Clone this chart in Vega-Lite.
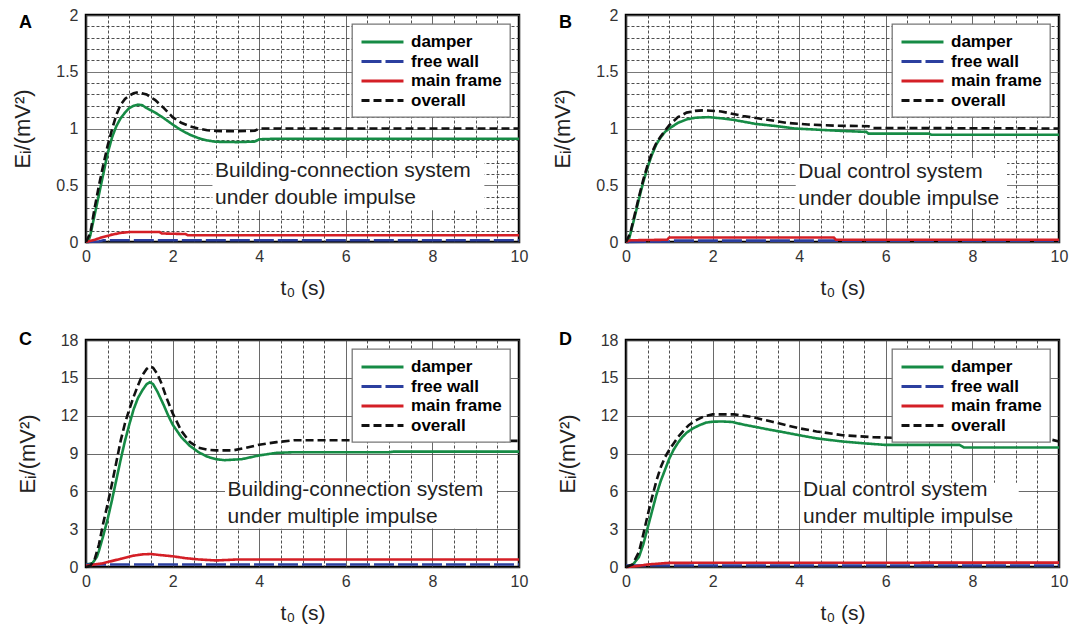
{
  "$schema": "https://vega.github.io/schema/vega-lite/v6.json",
  "padding": {"left": 10, "top": 5, "right": 5, "bottom": 5},
  "background": "white",
  "datasets": {
    "curves": [
      {"panel":"A","series":"damper","t":0,"v":0},{"panel":"A","series":"damper","t":0.05,"v":0},{"panel":"A","series":"damper","t":0.1,"v":0.06},{"panel":"A","series":"damper","t":0.2,"v":0.24},{"panel":"A","series":"damper","t":0.3,"v":0.42},{"panel":"A","series":"damper","t":0.4,"v":0.6},{"panel":"A","series":"damper","t":0.5,"v":0.78},{"panel":"A","series":"damper","t":0.6,"v":0.92},{"panel":"A","series":"damper","t":0.7,"v":1.02},{"panel":"A","series":"damper","t":0.8,"v":1.09},{"panel":"A","series":"damper","t":0.9,"v":1.14},{"panel":"A","series":"damper","t":1.0,"v":1.18},{"panel":"A","series":"damper","t":1.1,"v":1.2},{"panel":"A","series":"damper","t":1.2,"v":1.21},{"panel":"A","series":"damper","t":1.3,"v":1.205},{"panel":"A","series":"damper","t":1.4,"v":1.18},{"panel":"A","series":"damper","t":1.6,"v":1.14},{"panel":"A","series":"damper","t":1.8,"v":1.09},{"panel":"A","series":"damper","t":2.0,"v":1.035},{"panel":"A","series":"damper","t":2.2,"v":0.985},{"panel":"A","series":"damper","t":2.4,"v":0.945},{"panel":"A","series":"damper","t":2.6,"v":0.915},{"panel":"A","series":"damper","t":2.8,"v":0.895},{"panel":"A","series":"damper","t":3.0,"v":0.883},{"panel":"A","series":"damper","t":3.5,"v":0.88},{"panel":"A","series":"damper","t":3.9,"v":0.885},{"panel":"A","series":"damper","t":4.0,"v":0.905},{"panel":"A","series":"damper","t":4.4,"v":0.91},{"panel":"A","series":"damper","t":10,"v":0.91},
      {"panel":"A","series":"free wall","t":0,"v":0},{"panel":"A","series":"free wall","t":0.3,"v":0.005},{"panel":"A","series":"free wall","t":0.4,"v":0.015},{"panel":"A","series":"free wall","t":10,"v":0.015},
      {"panel":"A","series":"main frame","t":0,"v":0},{"panel":"A","series":"main frame","t":0.2,"v":0.02},{"panel":"A","series":"main frame","t":0.4,"v":0.045},{"panel":"A","series":"main frame","t":0.6,"v":0.065},{"panel":"A","series":"main frame","t":0.8,"v":0.08},{"panel":"A","series":"main frame","t":1.0,"v":0.088},{"panel":"A","series":"main frame","t":1.7,"v":0.088},{"panel":"A","series":"main frame","t":1.75,"v":0.075},{"panel":"A","series":"main frame","t":2.3,"v":0.07},{"panel":"A","series":"main frame","t":2.35,"v":0.06},{"panel":"A","series":"main frame","t":10,"v":0.06},
      {"panel":"A","series":"overall","t":0,"v":0},{"panel":"A","series":"overall","t":0.1,"v":0.08},{"panel":"A","series":"overall","t":0.2,"v":0.3},{"panel":"A","series":"overall","t":0.3,"v":0.5},{"panel":"A","series":"overall","t":0.4,"v":0.68},{"panel":"A","series":"overall","t":0.5,"v":0.85},{"panel":"A","series":"overall","t":0.6,"v":0.99},{"panel":"A","series":"overall","t":0.7,"v":1.12},{"panel":"A","series":"overall","t":0.8,"v":1.21},{"panel":"A","series":"overall","t":0.9,"v":1.26},{"panel":"A","series":"overall","t":1.0,"v":1.29},{"panel":"A","series":"overall","t":1.1,"v":1.31},{"panel":"A","series":"overall","t":1.2,"v":1.32},{"panel":"A","series":"overall","t":1.4,"v":1.3},{"panel":"A","series":"overall","t":1.6,"v":1.25},{"panel":"A","series":"overall","t":1.8,"v":1.18},{"panel":"A","series":"overall","t":2.0,"v":1.1},{"panel":"A","series":"overall","t":2.2,"v":1.05},{"panel":"A","series":"overall","t":2.4,"v":1.02},{"panel":"A","series":"overall","t":2.6,"v":1.0},{"panel":"A","series":"overall","t":2.8,"v":0.985},{"panel":"A","series":"overall","t":3.0,"v":0.978},{"panel":"A","series":"overall","t":3.5,"v":0.975},{"panel":"A","series":"overall","t":3.9,"v":0.98},{"panel":"A","series":"overall","t":4.0,"v":1.0},{"panel":"A","series":"overall","t":10,"v":1.0},

      {"panel":"B","series":"damper","t":0,"v":0},{"panel":"B","series":"damper","t":0.05,"v":0},{"panel":"B","series":"damper","t":0.1,"v":0.07},{"panel":"B","series":"damper","t":0.2,"v":0.22},{"panel":"B","series":"damper","t":0.3,"v":0.38},{"panel":"B","series":"damper","t":0.4,"v":0.53},{"panel":"B","series":"damper","t":0.5,"v":0.66},{"panel":"B","series":"damper","t":0.6,"v":0.77},{"panel":"B","series":"damper","t":0.7,"v":0.86},{"panel":"B","series":"damper","t":0.8,"v":0.92},{"panel":"B","series":"damper","t":0.9,"v":0.97},{"panel":"B","series":"damper","t":1.0,"v":1.0},{"panel":"B","series":"damper","t":1.2,"v":1.05},{"panel":"B","series":"damper","t":1.4,"v":1.08},{"panel":"B","series":"damper","t":1.6,"v":1.095},{"panel":"B","series":"damper","t":1.9,"v":1.1},{"panel":"B","series":"damper","t":2.2,"v":1.09},{"panel":"B","series":"damper","t":2.5,"v":1.075},{"panel":"B","series":"damper","t":3.0,"v":1.04},{"panel":"B","series":"damper","t":3.5,"v":1.02},{"panel":"B","series":"damper","t":3.9,"v":1.0},{"panel":"B","series":"damper","t":4.4,"v":0.99},{"panel":"B","series":"damper","t":4.9,"v":0.98},{"panel":"B","series":"damper","t":5.55,"v":0.97},{"panel":"B","series":"damper","t":5.6,"v":0.955},{"panel":"B","series":"damper","t":7.0,"v":0.955},{"panel":"B","series":"damper","t":7.05,"v":0.945},{"panel":"B","series":"damper","t":10,"v":0.945},
      {"panel":"B","series":"free wall","t":0,"v":0},{"panel":"B","series":"free wall","t":1.0,"v":0.005},{"panel":"B","series":"free wall","t":1.1,"v":0.012},{"panel":"B","series":"free wall","t":10,"v":0.012},
      {"panel":"B","series":"main frame","t":0,"v":0},{"panel":"B","series":"main frame","t":0.1,"v":0.015},{"panel":"B","series":"main frame","t":0.95,"v":0.02},{"panel":"B","series":"main frame","t":1.0,"v":0.04},{"panel":"B","series":"main frame","t":4.8,"v":0.04},{"panel":"B","series":"main frame","t":4.85,"v":0.02},{"panel":"B","series":"main frame","t":10,"v":0.02},
      {"panel":"B","series":"overall","t":0,"v":0},{"panel":"B","series":"overall","t":0.1,"v":0.08},{"panel":"B","series":"overall","t":0.2,"v":0.24},{"panel":"B","series":"overall","t":0.3,"v":0.4},{"panel":"B","series":"overall","t":0.4,"v":0.55},{"panel":"B","series":"overall","t":0.5,"v":0.68},{"panel":"B","series":"overall","t":0.6,"v":0.79},{"panel":"B","series":"overall","t":0.7,"v":0.87},{"panel":"B","series":"overall","t":0.8,"v":0.93},{"panel":"B","series":"overall","t":0.9,"v":0.98},{"panel":"B","series":"overall","t":1.0,"v":1.03},{"panel":"B","series":"overall","t":1.2,"v":1.1},{"panel":"B","series":"overall","t":1.4,"v":1.14},{"panel":"B","series":"overall","t":1.6,"v":1.155},{"panel":"B","series":"overall","t":1.8,"v":1.16},{"panel":"B","series":"overall","t":2.2,"v":1.15},{"panel":"B","series":"overall","t":2.7,"v":1.11},{"panel":"B","series":"overall","t":3.3,"v":1.075},{"panel":"B","series":"overall","t":3.7,"v":1.05},{"panel":"B","series":"overall","t":4.2,"v":1.035},{"panel":"B","series":"overall","t":4.8,"v":1.025},{"panel":"B","series":"overall","t":5.6,"v":1.02},{"panel":"B","series":"overall","t":5.7,"v":1.005},{"panel":"B","series":"overall","t":10,"v":1.0},

      {"panel":"C","series":"damper","t":0,"v":0.2},{"panel":"C","series":"damper","t":0.15,"v":0.3},{"panel":"C","series":"damper","t":0.25,"v":0.8},{"panel":"C","series":"damper","t":0.3,"v":1.3},{"panel":"C","series":"damper","t":0.4,"v":2.5},{"panel":"C","series":"damper","t":0.5,"v":3.8},{"panel":"C","series":"damper","t":0.6,"v":5.3},{"panel":"C","series":"damper","t":0.7,"v":6.9},{"panel":"C","series":"damper","t":0.8,"v":8.5},{"panel":"C","series":"damper","t":0.9,"v":10.0},{"panel":"C","series":"damper","t":1.0,"v":11.3},{"panel":"C","series":"damper","t":1.1,"v":12.5},{"panel":"C","series":"damper","t":1.2,"v":13.4},{"panel":"C","series":"damper","t":1.3,"v":14.0},{"panel":"C","series":"damper","t":1.4,"v":14.5},{"panel":"C","series":"damper","t":1.47,"v":14.65},{"panel":"C","series":"damper","t":1.55,"v":14.5},{"panel":"C","series":"damper","t":1.65,"v":13.9},{"panel":"C","series":"damper","t":1.8,"v":12.8},{"panel":"C","series":"damper","t":1.9,"v":12.0},{"panel":"C","series":"damper","t":2.0,"v":11.3},{"panel":"C","series":"damper","t":2.2,"v":10.3},{"panel":"C","series":"damper","t":2.4,"v":9.6},{"panel":"C","series":"damper","t":2.6,"v":9.1},{"panel":"C","series":"damper","t":2.8,"v":8.75},{"panel":"C","series":"damper","t":3.0,"v":8.55},{"panel":"C","series":"damper","t":3.2,"v":8.47},{"panel":"C","series":"damper","t":3.6,"v":8.55},{"panel":"C","series":"damper","t":4.0,"v":8.85},{"panel":"C","series":"damper","t":4.4,"v":9.05},{"panel":"C","series":"damper","t":4.8,"v":9.1},{"panel":"C","series":"damper","t":7.0,"v":9.1},{"panel":"C","series":"damper","t":7.1,"v":9.15},{"panel":"C","series":"damper","t":10,"v":9.15},
      {"panel":"C","series":"free wall","t":0,"v":0.2},{"panel":"C","series":"free wall","t":10,"v":0.2},
      {"panel":"C","series":"main frame","t":0,"v":0.1},{"panel":"C","series":"main frame","t":0.4,"v":0.3},{"panel":"C","series":"main frame","t":0.8,"v":0.65},{"panel":"C","series":"main frame","t":1.1,"v":0.9},{"panel":"C","series":"main frame","t":1.3,"v":1.0},{"panel":"C","series":"main frame","t":1.5,"v":1.03},{"panel":"C","series":"main frame","t":1.7,"v":0.95},{"panel":"C","series":"main frame","t":2.0,"v":0.85},{"panel":"C","series":"main frame","t":2.3,"v":0.7},{"panel":"C","series":"main frame","t":2.6,"v":0.6},{"panel":"C","series":"main frame","t":3.0,"v":0.52},{"panel":"C","series":"main frame","t":3.2,"v":0.55},{"panel":"C","series":"main frame","t":3.5,"v":0.6},{"panel":"C","series":"main frame","t":10,"v":0.6},
      {"panel":"C","series":"overall","t":0,"v":0},{"panel":"C","series":"overall","t":0.1,"v":0.1},{"panel":"C","series":"overall","t":0.2,"v":0.6},{"panel":"C","series":"overall","t":0.3,"v":1.8},{"panel":"C","series":"overall","t":0.4,"v":3.5},{"panel":"C","series":"overall","t":0.5,"v":5.0},{"panel":"C","series":"overall","t":0.6,"v":6.6},{"panel":"C","series":"overall","t":0.7,"v":8.3},{"panel":"C","series":"overall","t":0.8,"v":10.0},{"panel":"C","series":"overall","t":0.9,"v":11.4},{"panel":"C","series":"overall","t":1.0,"v":12.5},{"panel":"C","series":"overall","t":1.1,"v":13.5},{"panel":"C","series":"overall","t":1.2,"v":14.4},{"panel":"C","series":"overall","t":1.3,"v":15.2},{"panel":"C","series":"overall","t":1.4,"v":15.7},{"panel":"C","series":"overall","t":1.47,"v":15.9},{"panel":"C","series":"overall","t":1.55,"v":15.8},{"panel":"C","series":"overall","t":1.65,"v":15.3},{"panel":"C","series":"overall","t":1.75,"v":14.5},{"panel":"C","series":"overall","t":1.85,"v":13.5},{"panel":"C","series":"overall","t":2.0,"v":12.2},{"panel":"C","series":"overall","t":2.2,"v":10.8},{"panel":"C","series":"overall","t":2.4,"v":9.9},{"panel":"C","series":"overall","t":2.6,"v":9.45},{"panel":"C","series":"overall","t":2.8,"v":9.3},{"panel":"C","series":"overall","t":3.0,"v":9.25},{"panel":"C","series":"overall","t":3.4,"v":9.25},{"panel":"C","series":"overall","t":3.7,"v":9.45},{"panel":"C","series":"overall","t":4.0,"v":9.7},{"panel":"C","series":"overall","t":4.4,"v":9.9},{"panel":"C","series":"overall","t":4.8,"v":10.05},{"panel":"C","series":"overall","t":6,"v":10.05},{"panel":"C","series":"overall","t":10,"v":10.0},

      {"panel":"D","series":"damper","t":0,"v":0},{"panel":"D","series":"damper","t":0.15,"v":0.15},{"panel":"D","series":"damper","t":0.3,"v":0.8},{"panel":"D","series":"damper","t":0.4,"v":1.8},{"panel":"D","series":"damper","t":0.5,"v":3.1},{"panel":"D","series":"damper","t":0.6,"v":4.4},{"panel":"D","series":"damper","t":0.7,"v":5.7},{"panel":"D","series":"damper","t":0.8,"v":6.8},{"panel":"D","series":"damper","t":0.9,"v":7.7},{"panel":"D","series":"damper","t":1.0,"v":8.6},{"panel":"D","series":"damper","t":1.1,"v":9.3},{"panel":"D","series":"damper","t":1.2,"v":9.85},{"panel":"D","series":"damper","t":1.3,"v":10.3},{"panel":"D","series":"damper","t":1.4,"v":10.65},{"panel":"D","series":"damper","t":1.55,"v":11.0},{"panel":"D","series":"damper","t":1.7,"v":11.25},{"panel":"D","series":"damper","t":1.85,"v":11.45},{"panel":"D","series":"damper","t":2.0,"v":11.52},{"panel":"D","series":"damper","t":2.2,"v":11.54},{"panel":"D","series":"damper","t":2.45,"v":11.5},{"panel":"D","series":"damper","t":2.7,"v":11.3},{"panel":"D","series":"damper","t":3.0,"v":11.1},{"panel":"D","series":"damper","t":3.3,"v":10.9},{"panel":"D","series":"damper","t":3.7,"v":10.65},{"panel":"D","series":"damper","t":4.0,"v":10.45},{"panel":"D","series":"damper","t":4.4,"v":10.2},{"panel":"D","series":"damper","t":5.0,"v":9.95},{"panel":"D","series":"damper","t":5.6,"v":9.78},{"panel":"D","series":"damper","t":6.0,"v":9.68},{"panel":"D","series":"damper","t":7.7,"v":9.68},{"panel":"D","series":"damper","t":7.8,"v":9.48},{"panel":"D","series":"damper","t":10,"v":9.48},
      {"panel":"D","series":"free wall","t":0,"v":0.12},{"panel":"D","series":"free wall","t":10,"v":0.12},
      {"panel":"D","series":"main frame","t":0,"v":0},{"panel":"D","series":"main frame","t":0.2,"v":0.05},{"panel":"D","series":"main frame","t":0.5,"v":0.2},{"panel":"D","series":"main frame","t":0.8,"v":0.28},{"panel":"D","series":"main frame","t":1.0,"v":0.33},{"panel":"D","series":"main frame","t":10,"v":0.35},
      {"panel":"D","series":"overall","t":0,"v":0},{"panel":"D","series":"overall","t":0.15,"v":0.2},{"panel":"D","series":"overall","t":0.3,"v":1.2},{"panel":"D","series":"overall","t":0.4,"v":2.6},{"panel":"D","series":"overall","t":0.5,"v":4.1},{"panel":"D","series":"overall","t":0.6,"v":5.5},{"panel":"D","series":"overall","t":0.7,"v":6.8},{"panel":"D","series":"overall","t":0.8,"v":7.9},{"panel":"D","series":"overall","t":0.9,"v":8.7},{"panel":"D","series":"overall","t":1.0,"v":9.3},{"panel":"D","series":"overall","t":1.1,"v":9.8},{"panel":"D","series":"overall","t":1.2,"v":10.3},{"panel":"D","series":"overall","t":1.3,"v":10.7},{"panel":"D","series":"overall","t":1.45,"v":11.25},{"panel":"D","series":"overall","t":1.6,"v":11.6},{"panel":"D","series":"overall","t":1.8,"v":11.95},{"panel":"D","series":"overall","t":2.0,"v":12.1},{"panel":"D","series":"overall","t":2.5,"v":12.1},{"panel":"D","series":"overall","t":2.9,"v":11.9},{"panel":"D","series":"overall","t":3.4,"v":11.5},{"panel":"D","series":"overall","t":4.0,"v":11.0},{"panel":"D","series":"overall","t":4.4,"v":10.75},{"panel":"D","series":"overall","t":5.0,"v":10.45},{"panel":"D","series":"overall","t":5.7,"v":10.3},{"panel":"D","series":"overall","t":6.6,"v":10.2},{"panel":"D","series":"overall","t":9.8,"v":10.12},{"panel":"D","series":"overall","t":10,"v":9.95}
    ]
  },
  "columns": 2,
  "spacing": {"row": 98, "column": 107},
  "bounds": "flush",
  "resolve": {
    "scale": {"color": "independent", "strokeDash": "independent", "x": "independent", "y": "independent"},
    "legend": {"color": "independent", "strokeDash": "independent"}
  },
  "concat": [
    {
      "width": 433, "height": 227,
      "title": {"text": "A", "dy": 29},
      "layer": [
        {"data": {"name": "curves"}, "transform": [{"filter": "datum.panel === 'A'"}],
         "mark": {"type": "line", "strokeWidth": 2.6},
         "encoding": {
           "x": {"field": "t", "type": "quantitative", "title": "t₀ (s)", "scale": {"domain": [0, 10], "nice": false},
                 "axis": {"values": [0,0.5,1,1.5,2,2.5,3,3.5,4,4.5,5,5.5,6,6.5,7,7.5,8,8.5,9,9.5,10], "labelExpr": "datum.value % 2 === 0 ? format(datum.value, '~g') : ''", "gridDash": {"condition": {"test": "datum.value % 2 === 0", "value": []}, "value": [3, 2]}, "gridColor": {"condition": {"test": "datum.value % 2 === 0", "value": "#444"}, "value": "#222"}}},
           "y": {"field": "v", "type": "quantitative", "title": "Eᵢ/(mV²)", "scale": {"domain": [0, 2], "nice": false},
                 "axis": {"values": [0,0.1,0.2,0.3,0.4,0.5,0.6,0.7,0.8,0.9,1,1.1,1.2,1.3,1.4,1.5,1.6,1.7,1.8,1.9,2], "labelExpr": "abs(datum.value*2 - round(datum.value*2)) < 0.001 ? format(datum.value, '~g') : ''", "gridDash": {"condition": {"test": "abs(datum.value*2 - round(datum.value*2)) < 0.001", "value": []}, "value": [3, 2]}, "gridColor": {"condition": {"test": "abs(datum.value*2 - round(datum.value*2)) < 0.001", "value": "#555"}, "value": "#222"}}},
           "color": {"field": "series", "type": "nominal", "scale": {"domain": ["damper", "free wall", "main frame", "overall"], "range": ["#168b45", "#2b3f9f", "#d41f26", "#111111"]}},
           "strokeDash": {"field": "series", "type": "nominal", "scale": {"domain": ["damper", "free wall", "main frame", "overall"], "range": [[1, 0], [20, 4], [1, 0], [8, 4]]}}
         }},
        {"data": {"values": [{}]}, "mark": {"type": "rect", "fill": "white"},
         "encoding": {
           "x": {"datum": 2.92, "type": "quantitative", "title": "t₀ (s)", "scale": {"domain": [0, 10], "nice": false},
                 "axis": {"values": [0,0.5,1,1.5,2,2.5,3,3.5,4,4.5,5,5.5,6,6.5,7,7.5,8,8.5,9,9.5,10], "labelExpr": "datum.value % 2 === 0 ? format(datum.value, '~g') : ''", "gridDash": {"condition": {"test": "datum.value % 2 === 0", "value": []}, "value": [3, 2]}, "gridColor": {"condition": {"test": "datum.value % 2 === 0", "value": "#444"}, "value": "#222"}}},
           "x2": {"datum": 9.2},
           "y": {"datum": 0.28, "type": "quantitative", "title": "Eᵢ/(mV²)", "scale": {"domain": [0, 2], "nice": false},
                 "axis": {"values": [0,0.1,0.2,0.3,0.4,0.5,0.6,0.7,0.8,0.9,1,1.1,1.2,1.3,1.4,1.5,1.6,1.7,1.8,1.9,2], "labelExpr": "abs(datum.value*2 - round(datum.value*2)) < 0.001 ? format(datum.value, '~g') : ''", "gridDash": {"condition": {"test": "abs(datum.value*2 - round(datum.value*2)) < 0.001", "value": []}, "value": [3, 2]}, "gridColor": {"condition": {"test": "abs(datum.value*2 - round(datum.value*2)) < 0.001", "value": "#555"}, "value": "#222"}}},
           "y2": {"datum": 0.74}}},
        {"data": {"values": [{}]}, "mark": {"type": "text", "align": "left", "baseline": "alphabetic", "fontSize": 21, "lineHeight": 27, "font": "Liberation Sans", "color": "#222"},
         "encoding": {
           "x": {"datum": 2.98, "type": "quantitative", "title": "t₀ (s)", "scale": {"domain": [0, 10], "nice": false},
                 "axis": {"values": [0,0.5,1,1.5,2,2.5,3,3.5,4,4.5,5,5.5,6,6.5,7,7.5,8,8.5,9,9.5,10], "labelExpr": "datum.value % 2 === 0 ? format(datum.value, '~g') : ''", "gridDash": {"condition": {"test": "datum.value % 2 === 0", "value": []}, "value": [3, 2]}, "gridColor": {"condition": {"test": "datum.value % 2 === 0", "value": "#444"}, "value": "#222"}}},
           "y": {"datum": 0.574, "type": "quantitative", "title": "Eᵢ/(mV²)", "scale": {"domain": [0, 2], "nice": false},
                 "axis": {"values": [0,0.1,0.2,0.3,0.4,0.5,0.6,0.7,0.8,0.9,1,1.1,1.2,1.3,1.4,1.5,1.6,1.7,1.8,1.9,2], "labelExpr": "abs(datum.value*2 - round(datum.value*2)) < 0.001 ? format(datum.value, '~g') : ''", "gridDash": {"condition": {"test": "abs(datum.value*2 - round(datum.value*2)) < 0.001", "value": []}, "value": [3, 2]}, "gridColor": {"condition": {"test": "abs(datum.value*2 - round(datum.value*2)) < 0.001", "value": "#555"}, "value": "#222"}}},
           "text": {"value": ["Building-connection system", "under double impulse"]}}}
      ]
    },
    {
      "width": 433, "height": 227,
      "title": {"text": "B", "dy": 29},
      "layer": [
        {"data": {"name": "curves"}, "transform": [{"filter": "datum.panel === 'B'"}],
         "mark": {"type": "line", "strokeWidth": 2.6},
         "encoding": {
           "x": {"field": "t", "type": "quantitative", "title": "t₀ (s)", "scale": {"domain": [0, 10], "nice": false},
                 "axis": {"values": [0,0.5,1,1.5,2,2.5,3,3.5,4,4.5,5,5.5,6,6.5,7,7.5,8,8.5,9,9.5,10], "labelExpr": "datum.value % 2 === 0 ? format(datum.value, '~g') : ''", "gridDash": {"condition": {"test": "datum.value % 2 === 0", "value": []}, "value": [3, 2]}, "gridColor": {"condition": {"test": "datum.value % 2 === 0", "value": "#444"}, "value": "#222"}}},
           "y": {"field": "v", "type": "quantitative", "title": "Eᵢ/(mV²)", "scale": {"domain": [0, 2], "nice": false},
                 "axis": {"values": [0,0.1,0.2,0.3,0.4,0.5,0.6,0.7,0.8,0.9,1,1.1,1.2,1.3,1.4,1.5,1.6,1.7,1.8,1.9,2], "labelExpr": "abs(datum.value*2 - round(datum.value*2)) < 0.001 ? format(datum.value, '~g') : ''", "gridDash": {"condition": {"test": "abs(datum.value*2 - round(datum.value*2)) < 0.001", "value": []}, "value": [3, 2]}, "gridColor": {"condition": {"test": "abs(datum.value*2 - round(datum.value*2)) < 0.001", "value": "#555"}, "value": "#222"}}},
           "color": {"field": "series", "type": "nominal", "scale": {"domain": ["damper", "free wall", "main frame", "overall"], "range": ["#168b45", "#2b3f9f", "#d41f26", "#111111"]}},
           "strokeDash": {"field": "series", "type": "nominal", "scale": {"domain": ["damper", "free wall", "main frame", "overall"], "range": [[1, 0], [20, 4], [1, 0], [8, 4]]}}
         }},
        {"data": {"values": [{}]}, "mark": {"type": "rect", "fill": "white"},
         "encoding": {
           "x": {"datum": 3.92, "type": "quantitative", "title": "t₀ (s)", "scale": {"domain": [0, 10], "nice": false},
                 "axis": {"values": [0,0.5,1,1.5,2,2.5,3,3.5,4,4.5,5,5.5,6,6.5,7,7.5,8,8.5,9,9.5,10], "labelExpr": "datum.value % 2 === 0 ? format(datum.value, '~g') : ''", "gridDash": {"condition": {"test": "datum.value % 2 === 0", "value": []}, "value": [3, 2]}, "gridColor": {"condition": {"test": "datum.value % 2 === 0", "value": "#444"}, "value": "#222"}}},
           "x2": {"datum": 8.8},
           "y": {"datum": 0.29, "type": "quantitative", "title": "Eᵢ/(mV²)", "scale": {"domain": [0, 2], "nice": false},
                 "axis": {"values": [0,0.1,0.2,0.3,0.4,0.5,0.6,0.7,0.8,0.9,1,1.1,1.2,1.3,1.4,1.5,1.6,1.7,1.8,1.9,2], "labelExpr": "abs(datum.value*2 - round(datum.value*2)) < 0.001 ? format(datum.value, '~g') : ''", "gridDash": {"condition": {"test": "abs(datum.value*2 - round(datum.value*2)) < 0.001", "value": []}, "value": [3, 2]}, "gridColor": {"condition": {"test": "abs(datum.value*2 - round(datum.value*2)) < 0.001", "value": "#555"}, "value": "#222"}}},
           "y2": {"datum": 0.74}}},
        {"data": {"values": [{}]}, "mark": {"type": "text", "align": "left", "baseline": "alphabetic", "fontSize": 21, "lineHeight": 27, "font": "Liberation Sans", "color": "#222"},
         "encoding": {
           "x": {"datum": 3.98, "type": "quantitative", "title": "t₀ (s)", "scale": {"domain": [0, 10], "nice": false},
                 "axis": {"values": [0,0.5,1,1.5,2,2.5,3,3.5,4,4.5,5,5.5,6,6.5,7,7.5,8,8.5,9,9.5,10], "labelExpr": "datum.value % 2 === 0 ? format(datum.value, '~g') : ''", "gridDash": {"condition": {"test": "datum.value % 2 === 0", "value": []}, "value": [3, 2]}, "gridColor": {"condition": {"test": "datum.value % 2 === 0", "value": "#444"}, "value": "#222"}}},
           "y": {"datum": 0.565, "type": "quantitative", "title": "Eᵢ/(mV²)", "scale": {"domain": [0, 2], "nice": false},
                 "axis": {"values": [0,0.1,0.2,0.3,0.4,0.5,0.6,0.7,0.8,0.9,1,1.1,1.2,1.3,1.4,1.5,1.6,1.7,1.8,1.9,2], "labelExpr": "abs(datum.value*2 - round(datum.value*2)) < 0.001 ? format(datum.value, '~g') : ''", "gridDash": {"condition": {"test": "abs(datum.value*2 - round(datum.value*2)) < 0.001", "value": []}, "value": [3, 2]}, "gridColor": {"condition": {"test": "abs(datum.value*2 - round(datum.value*2)) < 0.001", "value": "#555"}, "value": "#222"}}},
           "text": {"value": ["Dual control system", "under double impulse"]}}}
      ]
    },
    {
      "width": 433, "height": 227,
      "title": {"text": "C", "dy": 21},
      "layer": [
        {"data": {"name": "curves"}, "transform": [{"filter": "datum.panel === 'C'"}],
         "mark": {"type": "line", "strokeWidth": 2.6},
         "encoding": {
           "x": {"field": "t", "type": "quantitative", "title": "t₀ (s)", "scale": {"domain": [0, 10], "nice": false},
                 "axis": {"values": [0,0.5,1,1.5,2,2.5,3,3.5,4,4.5,5,5.5,6,6.5,7,7.5,8,8.5,9,9.5,10], "labelExpr": "datum.value % 2 === 0 ? format(datum.value, '~g') : ''", "gridDash": {"condition": {"test": "datum.value % 2 === 0", "value": []}, "value": [3, 2]}, "gridColor": {"condition": {"test": "datum.value % 2 === 0", "value": "#444"}, "value": "#222"}}},
           "y": {"field": "v", "type": "quantitative", "title": "Eᵢ/(mV²)", "scale": {"domain": [0, 18], "nice": false},
                 "axis": {"values": [0,3,6,9,12,15,18], "gridColor": "#444"}},
           "color": {"field": "series", "type": "nominal", "scale": {"domain": ["damper", "free wall", "main frame", "overall"], "range": ["#168b45", "#2b3f9f", "#d41f26", "#111111"]}},
           "strokeDash": {"field": "series", "type": "nominal", "scale": {"domain": ["damper", "free wall", "main frame", "overall"], "range": [[1, 0], [20, 4], [1, 0], [8, 4]]}}
         }},
        {"data": {"values": [{}]}, "mark": {"type": "rect", "fill": "white"},
         "encoding": {
           "x": {"datum": 3.21, "type": "quantitative", "title": "t₀ (s)", "scale": {"domain": [0, 10], "nice": false},
                 "axis": {"values": [0,0.5,1,1.5,2,2.5,3,3.5,4,4.5,5,5.5,6,6.5,7,7.5,8,8.5,9,9.5,10], "labelExpr": "datum.value % 2 === 0 ? format(datum.value, '~g') : ''", "gridDash": {"condition": {"test": "datum.value % 2 === 0", "value": []}, "value": [3, 2]}, "gridColor": {"condition": {"test": "datum.value % 2 === 0", "value": "#444"}, "value": "#222"}}},
           "x2": {"datum": 9.49},
           "y": {"datum": 3.05, "type": "quantitative", "title": "Eᵢ/(mV²)", "scale": {"domain": [0, 18], "nice": false},
                 "axis": {"values": [0,3,6,9,12,15,18], "gridColor": "#444"}},
           "y2": {"datum": 6.75}}},
        {"data": {"values": [{}]}, "mark": {"type": "text", "align": "left", "baseline": "alphabetic", "fontSize": 21, "lineHeight": 27, "font": "Liberation Sans", "color": "#222"},
         "encoding": {
           "x": {"datum": 3.27, "type": "quantitative", "title": "t₀ (s)", "scale": {"domain": [0, 10], "nice": false},
                 "axis": {"values": [0,0.5,1,1.5,2,2.5,3,3.5,4,4.5,5,5.5,6,6.5,7,7.5,8,8.5,9,9.5,10], "labelExpr": "datum.value % 2 === 0 ? format(datum.value, '~g') : ''", "gridDash": {"condition": {"test": "datum.value % 2 === 0", "value": []}, "value": [3, 2]}, "gridColor": {"condition": {"test": "datum.value % 2 === 0", "value": "#444"}, "value": "#222"}}},
           "y": {"datum": 5.66, "type": "quantitative", "title": "Eᵢ/(mV²)", "scale": {"domain": [0, 18], "nice": false},
                 "axis": {"values": [0,3,6,9,12,15,18], "gridColor": "#444"}},
           "text": {"value": ["Building-connection system", "under multiple impulse"]}}}
      ]
    },
    {
      "width": 433, "height": 227,
      "title": {"text": "D", "dy": 21},
      "layer": [
        {"data": {"name": "curves"}, "transform": [{"filter": "datum.panel === 'D'"}],
         "mark": {"type": "line", "strokeWidth": 2.6},
         "encoding": {
           "x": {"field": "t", "type": "quantitative", "title": "t₀ (s)", "scale": {"domain": [0, 10], "nice": false},
                 "axis": {"values": [0,0.5,1,1.5,2,2.5,3,3.5,4,4.5,5,5.5,6,6.5,7,7.5,8,8.5,9,9.5,10], "labelExpr": "datum.value % 2 === 0 ? format(datum.value, '~g') : ''", "gridDash": {"condition": {"test": "datum.value % 2 === 0", "value": []}, "value": [3, 2]}, "gridColor": {"condition": {"test": "datum.value % 2 === 0", "value": "#444"}, "value": "#222"}}},
           "y": {"field": "v", "type": "quantitative", "title": "Eᵢ/(mV²)", "scale": {"domain": [0, 18], "nice": false},
                 "axis": {"values": [0,3,6,9,12,15,18], "gridColor": "#444"}},
           "color": {"field": "series", "type": "nominal", "scale": {"domain": ["damper", "free wall", "main frame", "overall"], "range": ["#168b45", "#2b3f9f", "#d41f26", "#111111"]}},
           "strokeDash": {"field": "series", "type": "nominal", "scale": {"domain": ["damper", "free wall", "main frame", "overall"], "range": [[1, 0], [20, 4], [1, 0], [8, 4]]}}
         }},
        {"data": {"values": [{}]}, "mark": {"type": "rect", "fill": "white"},
         "encoding": {
           "x": {"datum": 4.03, "type": "quantitative", "title": "t₀ (s)", "scale": {"domain": [0, 10], "nice": false},
                 "axis": {"values": [0,0.5,1,1.5,2,2.5,3,3.5,4,4.5,5,5.5,6,6.5,7,7.5,8,8.5,9,9.5,10], "labelExpr": "datum.value % 2 === 0 ? format(datum.value, '~g') : ''", "gridDash": {"condition": {"test": "datum.value % 2 === 0", "value": []}, "value": [3, 2]}, "gridColor": {"condition": {"test": "datum.value % 2 === 0", "value": "#444"}, "value": "#222"}}},
           "x2": {"datum": 9.07},
           "y": {"datum": 3.1, "type": "quantitative", "title": "Eᵢ/(mV²)", "scale": {"domain": [0, 18], "nice": false},
                 "axis": {"values": [0,3,6,9,12,15,18], "gridColor": "#444"}},
           "y2": {"datum": 6.68}}},
        {"data": {"values": [{}]}, "mark": {"type": "text", "align": "left", "baseline": "alphabetic", "fontSize": 21, "lineHeight": 27, "font": "Liberation Sans", "color": "#222"},
         "encoding": {
           "x": {"datum": 4.09, "type": "quantitative", "title": "t₀ (s)", "scale": {"domain": [0, 10], "nice": false},
                 "axis": {"values": [0,0.5,1,1.5,2,2.5,3,3.5,4,4.5,5,5.5,6,6.5,7,7.5,8,8.5,9,9.5,10], "labelExpr": "datum.value % 2 === 0 ? format(datum.value, '~g') : ''", "gridDash": {"condition": {"test": "datum.value % 2 === 0", "value": []}, "value": [3, 2]}, "gridColor": {"condition": {"test": "datum.value % 2 === 0", "value": "#444"}, "value": "#222"}}},
           "y": {"datum": 5.66, "type": "quantitative", "title": "Eᵢ/(mV²)", "scale": {"domain": [0, 18], "nice": false},
                 "axis": {"values": [0,3,6,9,12,15,18], "gridColor": "#444"}},
           "text": {"value": ["Dual control system", "under multiple impulse"]}}}
      ]
    }
  ],
  "config": {
    "font": "Liberation Sans",
    "view": {"stroke": "#000", "strokeWidth": 2.5},
    "title": {"anchor": "start", "frame": "group", "orient": "top", "baseline": "top", "offset": 0, "dx": -67, "fontSize": 18, "fontWeight": "bold", "font": "Liberation Sans", "color": "#000"},
    "axis": {"labelFont": "Liberation Sans", "labelFontSize": 16, "labelColor": "#333", "titleFont": "Liberation Sans", "titleFontSize": 21, "titleFontWeight": "normal", "titleColor": "#222", "ticks": false, "domain": false, "grid": true, "gridWidth": 0.8, "labelFlush": false, "labelOverlap": false},
    "axisX": {"labelPadding": 6, "titlePadding": 13},
    "axisY": {"labelPadding": 8, "titlePadding": 21, "titleFontSize": 22},
    "legend": {"orient": "top-right", "offset": 9, "title": null, "fillColor": "white", "strokeColor": "#777", "strokeWidth": 1.3, "padding": 8, "symbolType": "M-1,0H3.94", "symbolSize": 289, "symbolStrokeWidth": 3, "symbolFillColor": "transparent", "labelFont": "Liberation Sans", "labelFontSize": 17, "labelFontWeight": "bold", "labelOffset": 31, "rowPadding": 1.5,
      "encode": {"labels": {"update": {"fill": {"signal": "datum.value === 'damper' ? '#168b45' : datum.value === 'free wall' ? '#2b3f9f' : datum.value === 'main frame' ? '#d41f26' : '#111111'"}}}}}
  }
}
